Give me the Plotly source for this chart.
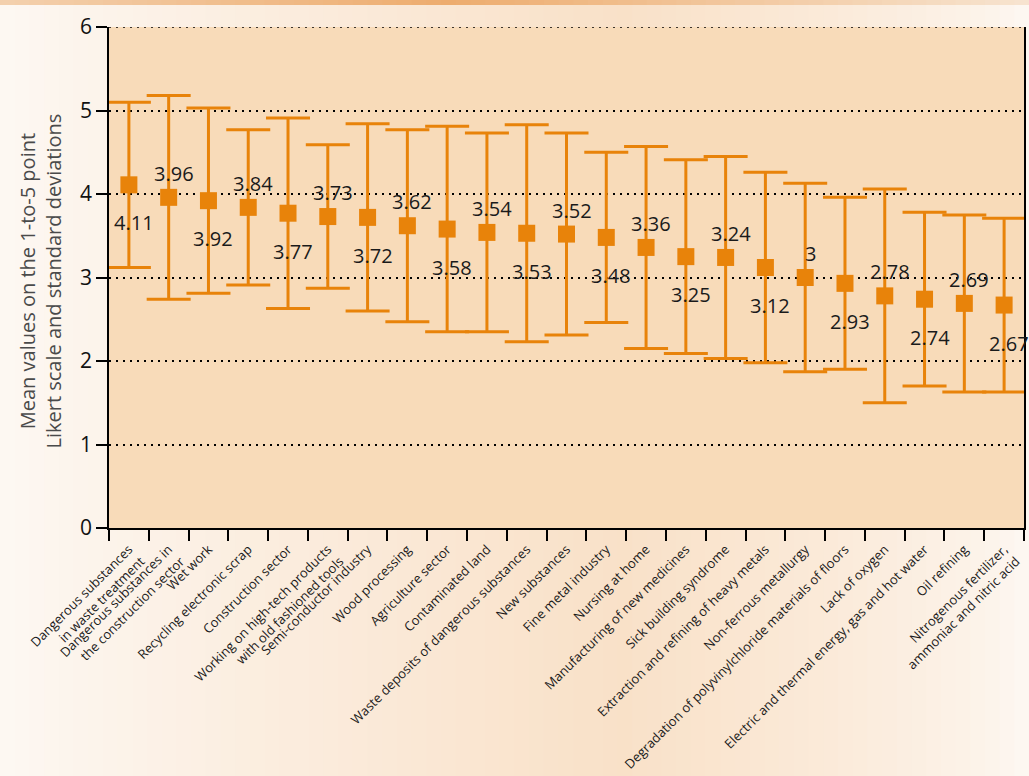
import plotly.graph_objects as go

# Occupational risk categories, ordered by mean rating
categories = [
    "Dangerous substances<br>in waste treatment",
    "Dangerous substances in<br>the construction sector",
    "Wet work",
    "Recycling electronic scrap",
    "Construction sector",
    "Working on high-tech products<br>with old fashioned tools",
    "Semi-conductor industry",
    "Wood processing",
    "Agriculture sector",
    "Contaminated land",
    "Waste deposits of dangerous substances",
    "New substances",
    "Fine metal industry",
    "Nursing at home",
    "Manufacturing of new medicines",
    "Sick building syndrome",
    "Extraction and refining of heavy metals",
    "Non-ferrous metallurgy",
    "Degradation of polyvinylchloride materials of floors",
    "Lack of oxygen",
    "Electric and thermal energy, gas and hot water",
    "Oil refining",
    "Nitrogenous fertilizer,<br>ammoniac and nitric acid",
]

# Mean values on the 1-to-5 Likert scale
means = [4.11, 3.96, 3.92, 3.84, 3.77, 3.73, 3.72, 3.62, 3.58, 3.54, 3.53, 3.52,
         3.48, 3.36, 3.25, 3.24, 3.12, 3.00, 2.93, 2.78, 2.74, 2.69, 2.67]

# Standard deviations
std_devs = [0.99, 1.22, 1.11, 0.93, 1.14, 0.86, 1.12, 1.15, 1.23, 1.19, 1.30, 1.21,
            1.02, 1.21, 1.16, 1.21, 1.14, 1.13, 1.03, 1.28, 1.04, 1.06, 1.04]

y_ticks = [0, 1, 2, 3, 4, 5, 6]

ORANGE = "#E8830A"
W, H = 1029, 776
L, R, T, B = 109, 5, 27, 248
PW, PH = W - L - R, H - T - B


def px_to_paper_x(px):
    return (px - L) / PW


def px_to_paper_y(py):
    return (H - B - py) / PH


def mix(c1, c2, t):
    return "rgb({},{},{})".format(*[round(a + (b - a) * t) for a, b in zip(c1, c2)])


shapes = []
# page background: pale at the edges, peach in the middle
pale = (253, 248, 243)
peach = (249, 225, 200)
n = 70
for i in range(n):
    x0 = W * i / n
    x1 = W * (i + 1) / n + 1
    xc = (x0 + x1) / 2
    if xc < 620:
        t = xc / 620
    else:
        t = max(0.0, 1 - (xc - 620) / 409) ** 0.8
    t = t ** 0.9
    shapes.append(dict(type="rect", xref="paper", yref="paper", layer="below",
                       x0=px_to_paper_x(x0), x1=px_to_paper_x(x1),
                       y0=px_to_paper_y(H + 2), y1=px_to_paper_y(0),
                       fillcolor=mix(pale, peach, t), line=dict(width=0)))
# orange band along the top edge
band_light = (247, 228, 208)
band_dark = (237, 172, 110)
for i in range(n):
    x0 = W * i / n
    x1 = W * (i + 1) / n + 1
    xc = (x0 + x1) / 2
    if xc < 450:
        t = 0.35 + 0.65 * xc / 450
    else:
        t = max(0.0, 1 - (xc - 450) / 579)
    shapes.append(dict(type="rect", xref="paper", yref="paper", layer="below",
                       x0=px_to_paper_x(x0), x1=px_to_paper_x(x1),
                       y0=px_to_paper_y(5), y1=px_to_paper_y(0),
                       fillcolor=mix(band_light, band_dark, t), line=dict(width=0)))
# plot area fill
shapes.append(dict(type="rect", xref="paper", yref="paper", layer="below",
                   x0=0, x1=1, y0=0, y1=1, fillcolor="#F8DBB9", line=dict(width=0)))
# dotted rule along the top of the plot area (y = 6)
shapes.append(dict(type="line", xref="paper", yref="y", layer="above",
                   x0=0, x1=1, y0=y_ticks[-1], y1=y_ticks[-1],
                   line=dict(color="black", width=1.5, dash="2px,5px")))

fig = go.Figure()
fig.add_trace(go.Scatter(
    x=categories,
    y=means,
    mode="markers",
    marker=dict(symbol="square", size=17, color=ORANGE),
    error_y=dict(type="data", array=std_devs, visible=True,
                 color=ORANGE, thickness=3, width=22),
    showlegend=False,
    hoverinfo="skip",
))

# value labels, alternating below / above the markers
annotations = []
for i, (c, m) in enumerate(zip(categories, means)):
    annotations.append(dict(
        x=c, y=m, xref="x", yref="y", text=f"{m:g}", showarrow=False,
        xshift=5, yshift=(-38 if i % 2 == 0 else 24),
        font=dict(family="Open Sans", size=20, color="#1a1a1a"),
    ))

annotations.append(dict(
    text="Mean values on the 1-to-5 point<br>Likert scale and standard deviations",
    xref="paper", yref="paper", x=px_to_paper_x(40), y=0.5, yshift=-4,
    xanchor="center", yanchor="middle", textangle=-90, showarrow=False,
    font=dict(family="Open Sans", size=20, color="#4a4a4a"),
))

fig.update_layout(
    width=W, height=H,
    margin=dict(l=L, r=R, t=T, b=B, pad=0, autoexpand=False),
    paper_bgcolor="#FDF7F2",
    plot_bgcolor="rgba(0,0,0,0)",
    shapes=shapes,
    annotations=annotations,
    font=dict(family="Open Sans", color="#1a1a1a"),
)

fig.update_xaxes(
    type="category",
    range=[-0.5, len(categories) - 0.5],
    tickson="boundaries",
    ticks="outside", ticklen=11, tickwidth=1.5, tickcolor="black",
    tickangle=-45,
    ticklabelstandoff=7,
    tickfont=dict(family="Open Sans", size=13, color="#1a1a1a"),
    showline=True, linecolor="black", linewidth=1.5,
    showgrid=False, zeroline=False,
    automargin=False,
)

fig.update_yaxes(
    range=[0, 6],
    tickvals=y_ticks,
    ticks="outside", ticklen=11, tickwidth=1.5, tickcolor="black",
    tickfont=dict(family="Open Sans", size=21, color="#111111"),
    showline=True, mirror=True, linecolor="black", linewidth=1.5,
    showgrid=True, gridcolor="black", gridwidth=1.5, griddash="2px,5px",
    zeroline=False,
    automargin=False,
)

fig.write_html("out.html")
